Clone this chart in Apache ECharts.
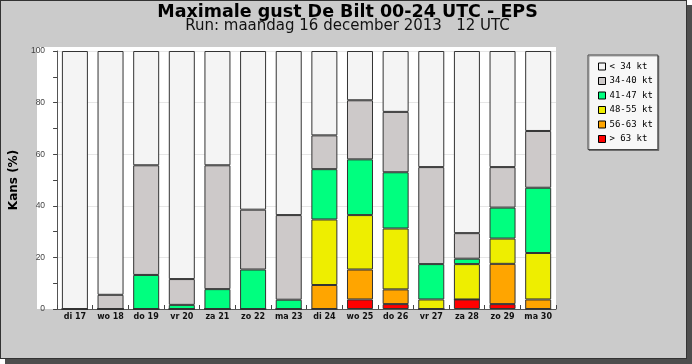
<!DOCTYPE html>
<html>
<head>
<meta charset="utf-8">
<script src="https://cdn.jsdelivr.net/npm/echarts@6/dist/echarts.min.js"></script>
<style>
  html, body { margin: 0; padding: 0; background: #ffffff; }
  #frame { position: absolute; left: 0; top: 0; width: 687px; height: 359px; box-sizing: border-box;
           border: 1px solid #333; background: #cbcbcb; box-shadow: 5px 5px 0 #4d4d4d; }
  #chart { position: absolute; left: 0; top: 0; width: 692px; height: 364px; }
</style>
</head>
<body>
<div id="frame"></div>
<div id="chart"></div>
<script>
const categories = ['di 17','wo 18','do 19','vr 20','za 21','zo 22','ma 23','di 24','wo 25','do 26','vr 27','za 28','zo 29','ma 30'];
const seriesNames = ['< 34 kt','34-40 kt','41-47 kt','48-55 kt','56-63 kt','> 63 kt'];
const gt63   = [0, 0, 0, 0, 0, 0, 0, 0, 3.7, 1.9, 0, 3.7, 1.9, 0];
const k56_63 = [0, 0, 0, 0, 0, 0, 0, 9.3, 11.6, 5.7, 0, 0, 15.6, 3.7];
const k48_55 = [0, 0, 0, 0, 0, 0, 0, 25.4, 21.1, 23.6, 3.7, 13.7, 9.8, 18.0];
const k41_47 = [0, 0, 13.2, 1.6, 7.7, 15.3, 3.6, 19.5, 21.6, 21.8, 13.7, 2.1, 12.0, 25.3];
const k34_40 = [0, 5.5, 42.5, 10.0, 48.0, 23.2, 32.8, 13.1, 22.9, 23.4, 37.6, 9.9, 15.7, 22.0];
const lt34   = [100, 94.5, 44.3, 88.4, 44.3, 61.5, 63.6, 32.7, 19.1, 23.6, 45.0, 70.6, 45.0, 31.0];
const yTicks = [0, 20, 40, 60, 80, 100];

const colors = {
  '< 34 kt': '#f4f4f4',
  '34-40 kt': '#cdc9c9',
  '41-47 kt': '#00ff7f',
  '48-55 kt': '#eeee00',
  '56-63 kt': '#ffa500',
  '> 63 kt': '#ff0000'
};
const stackOrder = [
  ['> 63 kt', gt63], ['56-63 kt', k56_63], ['48-55 kt', k48_55],
  ['41-47 kt', k41_47], ['34-40 kt', k34_40], ['< 34 kt', lt34]
];

const chart = echarts.init(document.getElementById('chart'), null, {renderer: 'canvas'});
const option = {
  backgroundColor: 'transparent',
  animation: false,
  graphic: [
    { type: 'rect', z: -10, shape: { x: 37, y: 47, width: 519, height: 262 }, style: { fill: '#ffffff' } },
    { type: 'text', x: 347.5, y: 12, style: { text: 'Maximale gust De Bilt 00-24 UTC - EPS',
      font: 'bold 17.5px "DejaVu Sans"', fill: '#000', textAlign: 'center', textVerticalAlign: 'middle', align: 'center', verticalAlign: 'middle' } },
    { type: 'text', x: 347.5, y: 26, style: { text: 'Run: maandag 16 december 2013   12 UTC',
      font: '15px "DejaVu Sans"', fill: '#111', textAlign: 'center', textVerticalAlign: 'middle', align: 'center', verticalAlign: 'middle' } }
  ],
  grid: { left: 37, top: 51, width: 519, height: 258, containLabel: false },
  legend: {
    orient: 'vertical', left: 588, top: 55,
    data: seriesNames,
    icon: 'rect', itemWidth: 7, itemHeight: 7, itemGap: 5.5,
    padding: [7, 5, 6, 10],
    backgroundColor: '#f7f7f7', borderColor: '#444', borderWidth: 1,
    shadowColor: 'rgba(0,0,0,0.35)', shadowOffsetX: 1, shadowOffsetY: 1, shadowBlur: 0,
    itemStyle: { borderColor: '#000', borderWidth: 1 },
    textStyle: { fontFamily: '"DejaVu Sans Mono"', fontSize: 9, color: '#000', lineHeight: 9, padding: [0, 0, 0, -1] },
    selectedMode: false
  },
  xAxis: {
    type: 'category', data: categories, boundaryGap: true,
    axisLine: { show: true, lineStyle: { color: '#555', width: 1 } },
    axisTick: { show: true, inside: true, length: 4, interval: 0, alignWithLabel: false, lineStyle: { color: '#444' } },
    axisLabel: { interval: 0, fontFamily: '"DejaVu Sans"', fontWeight: 'bold', fontSize: 8, color: '#111', margin: 4 },
    splitLine: { show: false }
  },
  yAxis: {
    type: 'value', min: yTicks[0], max: yTicks[yTicks.length - 1], interval: 20,
    name: 'Kans (%)', nameLocation: 'middle', nameGap: 23,
    nameTextStyle: { fontFamily: '"DejaVu Sans"', fontWeight: 'bold', fontSize: 12, color: '#000' },
    axisLine: { show: true, lineStyle: { color: '#555', width: 1 } },
    axisTick: { show: true, inside: false, length: 4, lineStyle: { color: '#444' } },
    minorTick: { show: true, splitNumber: 2, length: 4, lineStyle: { color: '#444' } },
    axisLabel: { fontFamily: '"Liberation Sans"', fontSize: 8.5, color: '#444', margin: 12 },
    splitLine: { show: true, lineStyle: { color: '#e6e6e6', width: 1 } }
  },
  series: stackOrder.map(([name, vals]) => ({
    name: name, type: 'bar', stack: 'kans', data: vals, barWidth: 26,
    itemStyle: { color: colors[name], borderColor: '#333', borderWidth: 1 },
    emphasis: { disabled: true }
  }))
};
chart.setOption(option);
</script>
</body>
</html>
